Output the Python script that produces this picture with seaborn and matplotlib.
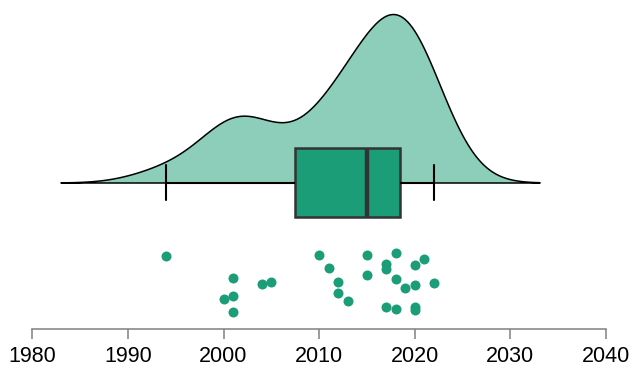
"""
Raincloud-style plot: density, boxplot and jittered points of years.
"""

import numpy as np
import matplotlib
matplotlib.use("Agg")
import matplotlib.pyplot as plt
import seaborn as sns

# Years (one value per point)
years = [1994, 2000, 2001, 2001, 2001, 2004, 2005, 2010, 2011, 2012,
         2012, 2013, 2015, 2015, 2017, 2017, 2017, 2018, 2018, 2018,
         2019, 2020, 2020, 2020, 2020, 2021, 2022]
x_ticks = [1980, 1990, 2000, 2010, 2020, 2030, 2040]

GREEN = "#1B9E77"
W, H = 632, 370

sns.set_style("white")
plt.rcParams["font.family"] = ["Liberation Sans", "DejaVu Sans"]

fig = plt.figure(figsize=(W / 100, H / 100), dpi=100)


def px_axes(top, bottom):
    """Axes spanning the x range of the chart, between two pixel rows."""
    left = 32.3 / W
    width = (606 - 32.3) / W
    return fig.add_axes([left, (H - bottom) / H, width, (bottom - top) / H])


# density (half violin)
ax_kde = px_axes(14, 182.5)
sns.kdeplot(x=years, ax=ax_kde, fill=True, bw_adjust=0.9, cut=3,
            color=GREEN, alpha=0.5, edgecolor="black", linewidth=1.1)
poly = ax_kde.collections[0]
poly.set_clip_on(False)
peak = poly.get_paths()[0].vertices[:, 1].max()
ax_kde.set_ylim(0, peak)

# boxplot
ax_box = px_axes(139.7, 225.5)
sns.boxplot(x=years, ax=ax_box, color=GREEN, saturation=1, width=0.8,
            linecolor="#333333", linewidth=1.8,
            medianprops=dict(linewidth=3.2, color="#333333"),
            whiskerprops=dict(color="black", linewidth=1.5),
            capprops=dict(color="black", linewidth=1.5))
ax_box.set_ylim(0.5, -0.5)

# jittered points
np.random.seed(7)
ax_pts = px_axes(243.25, 329)
sns.stripplot(x=years, ax=ax_pts, jitter=0.4, color=GREEN, size=7.2,
              linewidth=0)
ax_pts.set_ylim(0.606, -0.5)

for ax in (ax_kde, ax_box, ax_pts):
    ax.set_xlim(1980, 2040)
    ax.patch.set_visible(False)
    for side in ("top", "right", "left", "bottom"):
        ax.spines[side].set_visible(False)
    ax.set_yticks([])
    ax.set_xticks([])
    ax.set_xlabel("")
    ax.set_ylabel("")

ax_pts.spines["bottom"].set_visible(True)
ax_pts.spines["bottom"].set_color("#808080")
ax_pts.spines["bottom"].set_linewidth(1.1)
ax_pts.set_xticks(x_ticks)
ax_pts.set_xticklabels([str(t) for t in x_ticks])
ax_pts.tick_params(axis="x", bottom=True, length=7.5, width=1.1,
                   color="#808080", labelsize=15.5, labelcolor="black", pad=5)

plt.savefig("out.png", dpi=100)
plt.close()
